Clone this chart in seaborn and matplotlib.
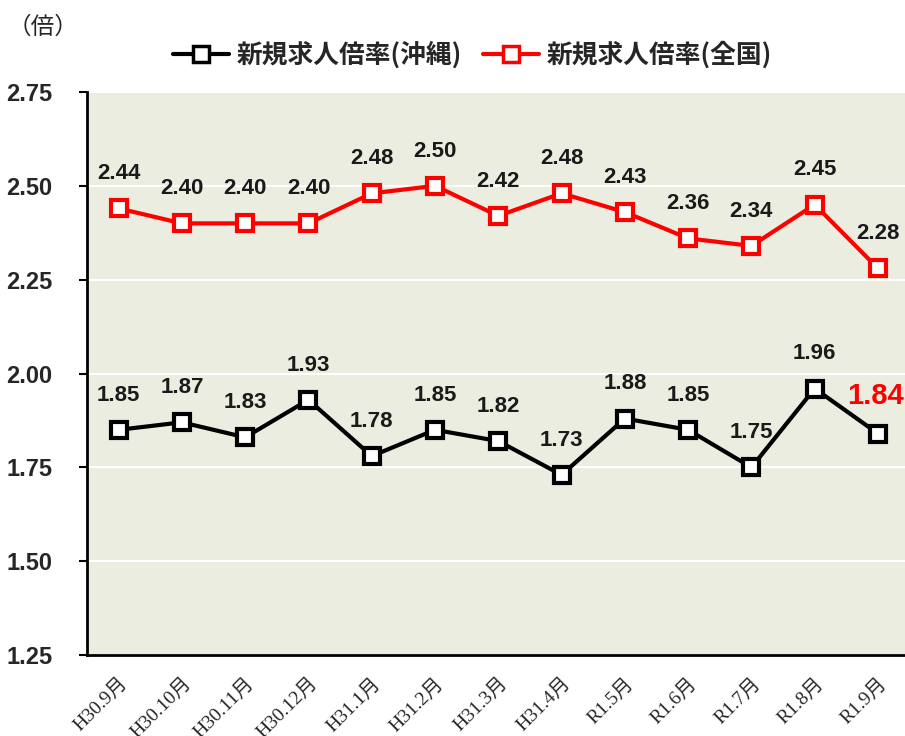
import numpy as np
import pandas as pd
import matplotlib
matplotlib.use('Agg')
import matplotlib.pyplot as plt
import seaborn as sns

months = ['H30.9月', 'H30.10月', 'H30.11月', 'H30.12月', 'H31.1月', 'H31.2月',
          'H31.3月', 'H31.4月', 'R1.5月', 'R1.6月', 'R1.7月', 'R1.8月', 'R1.9月']
okinawa = [1.85, 1.87, 1.83, 1.93, 1.78, 1.85, 1.82, 1.73, 1.88, 1.85, 1.75, 1.96, 1.84]
national = [2.44, 2.40, 2.40, 2.40, 2.48, 2.50, 2.42, 2.48, 2.43, 2.36, 2.34, 2.45, 2.28]
series_names = ['新規求人倍率(沖縄)', '新規求人倍率(全国)']
y_ticks = [1.25, 1.50, 1.75, 2.00, 2.25, 2.50, 2.75]

sns.set_theme(style='white')
plt.rcParams['font.family'] = ['Noto Sans CJK JP', 'DejaVu Sans']
plt.rcParams['font.weight'] = 'bold'
num_font = ['Liberation Sans', 'DejaVu Sans']

df = pd.DataFrame({
    'pos': list(range(len(months))) * 2,
    'value': okinawa + national,
    'series': [series_names[0]] * len(months) + [series_names[1]] * len(months),
})

fig = plt.figure(figsize=(9.05, 7.36), dpi=100)
ax = fig.add_axes([0.0961, 0.110, 0.909, 0.765])
ax.set_facecolor('#EBEDE0')

palette = {series_names[0]: 'black', series_names[1]: '#FF0000'}
sns.lineplot(data=df, x='pos', y='value', hue='series', palette=palette,
             marker='s', markersize=12, markerfacecolor='white',
             markeredgewidth=3, linewidth=3, ax=ax, legend=False)
for line, name in zip(ax.lines, series_names):
    line.set_markeredgecolor(palette[name])

ax.set_xlim(-0.5, len(months) - 0.5)
ax.set_ylim(1.25, 2.75)
ax.set_yticks(y_ticks)
ax.set_yticklabels([f'{v:.2f}' for v in y_ticks], fontsize=17, fontweight='bold',
                   family=num_font)
ax.yaxis.grid(True, color='white', linewidth=1.5)
ax.set_axisbelow(True)

ax.set_xticks(range(len(months)))
ax.set_xticklabels(months, rotation=45, ha='right', rotation_mode='anchor',
                   fontsize=14, fontweight='normal',
                   family=['Liberation Serif', 'Noto Sans CJK JP'])
ax.set_xticks(np.arange(-0.5, len(months) - 0.5, 1), minor=True)
ax.tick_params(axis='x', which='major', length=0, pad=14)
ax.tick_params(axis='x', which='minor', length=6, width=1.5, color='black', direction='out')
ax.tick_params(axis='y', length=6, width=1.5, color='black', direction='out', pad=52, left=True)
for lab in ax.get_yticklabels():
    lab.set_horizontalalignment('left')

ax.set_xlabel('')
ax.set_ylabel('')
for side in ['top', 'right']:
    ax.spines[side].set_visible(False)
for side in ['left', 'bottom']:
    ax.spines[side].set_color('black')
    ax.spines[side].set_linewidth(2)

# data labels
for i, v in enumerate(national):
    ax.annotate(f'{v:.2f}', (i, v), xytext=(0, 25), textcoords='offset points',
                ha='center', va='center', fontsize=16, fontweight='bold',
                color='#1a1a1a', family=num_font)
for i, v in enumerate(okinawa):
    last = i == len(okinawa) - 1
    ax.annotate(f'{v:.2f}', (i, v), xytext=(-2 if last else 0, 27 if last else 25),
                textcoords='offset points', ha='center', va='center',
                fontsize=21 if last else 16, fontweight='bold',
                color='#FF0000' if last else '#1a1a1a', family=num_font)

handles = [plt.Line2D([], [], color=palette[n], marker='s', markersize=11,
                      markerfacecolor='white', markeredgecolor=palette[n],
                      markeredgewidth=2.5, linewidth=3) for n in series_names]
fig.legend(handles, series_names, loc='center', bbox_to_anchor=(0.522, 0.925), ncol=2,
           frameon=False, prop={'size': 18.5, 'weight': 'bold'}, handlelength=2.2,
           handletextpad=0.3, columnspacing=0.8)

fig.text(0.008, 0.963, '（倍）', fontsize=17, fontweight='normal', va='center', ha='left')

fig.savefig('out.png', dpi=100)
